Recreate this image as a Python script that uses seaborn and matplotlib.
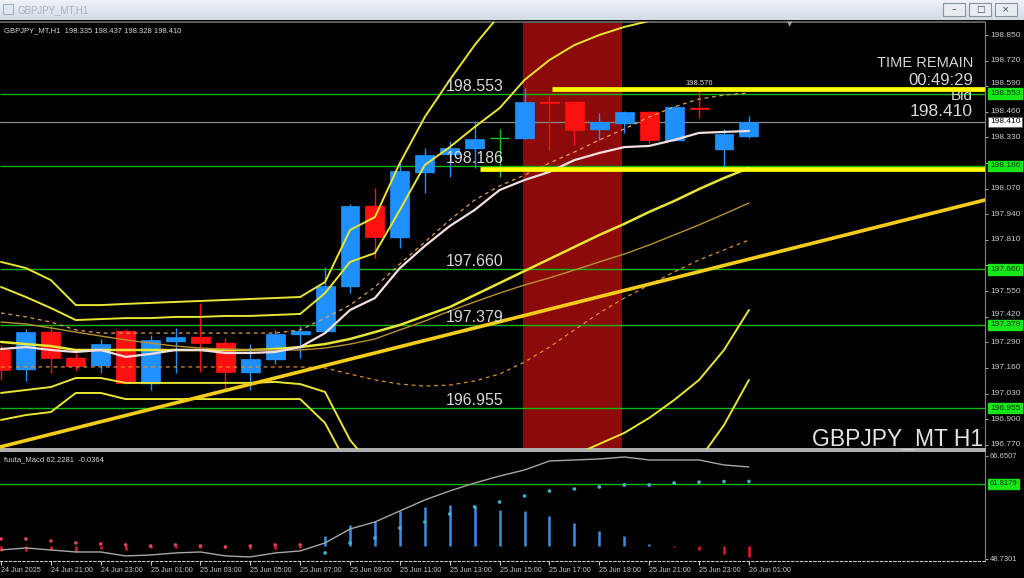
import numpy as np
import pandas as pd
import seaborn as sns
import matplotlib.pyplot as plt
import matplotlib.transforms as mtransforms
from matplotlib.colors import LinearSegmentedColormap
from matplotlib.patches import Rectangle

# ---- GBPJPY_MT H1 bars: bar 0 = 24 Jun 19:00 ... bar 30 = 26 Jun 01:00 ----
opens = [197.251, 197.155, 197.342, 197.210, 197.175, 197.347, 197.084, 197.297,
         197.317, 197.287, 197.139, 197.205, 197.332, 197.347, 197.576, 197.982,
         197.825, 198.155, 198.246, 198.276, 198.327, 198.327, 198.510, 198.510,
         198.373, 198.403, 198.459, 198.317, 198.479, 198.271, 198.335]
highs = [197.276, 197.358, 197.378, 197.236, 197.307, 197.358, 197.327, 197.363,
         197.490, 197.312, 197.281, 197.353, 197.373, 197.672, 197.992, 198.073,
         198.200, 198.276, 198.312, 198.413, 198.373, 198.581, 198.545, 198.515,
         198.454, 198.464, 198.464, 198.490, 198.576, 198.373, 198.437]
lows = [197.099, 197.094, 197.134, 197.149, 197.134, 197.079, 197.048, 197.134,
        197.139, 197.048, 197.048, 197.180, 197.210, 197.335, 197.540, 197.718,
        197.769, 198.048, 198.129, 198.175, 198.129, 198.322, 198.266, 198.292,
        198.317, 198.353, 198.302, 198.312, 198.429, 198.180, 198.328]
closes = [197.149, 197.342, 197.210, 197.170, 197.281, 197.084, 197.302, 197.317,
          197.287, 197.139, 197.205, 197.332, 197.347, 197.576, 197.982, 197.825,
          198.160, 198.241, 198.276, 198.322, 198.327, 198.510, 198.506, 198.368,
          198.408, 198.459, 198.317, 198.485, 198.476, 198.347, 198.410]

time_ticks = [0, 2, 4, 6, 8, 10, 12, 14, 16, 18, 20, 22, 24, 26, 28, 30]
time_labels = ['24 Jun 2025', '24 Jun 21:00', '24 Jun 23:00', '25 Jun 01:00',
               '25 Jun 03:00', '25 Jun 05:00', '25 Jun 07:00', '25 Jun 09:00',
               '25 Jun 11:00', '25 Jun 13:00', '25 Jun 15:00', '25 Jun 17:00',
               '25 Jun 19:00', '25 Jun 21:00', '25 Jun 23:00', '26 Jun 01:00']

# bands / averages on the price chart
bb_mid = [197.292, 197.281, 197.271, 197.251, 197.251, 197.251, 197.251, 197.251,
          197.251, 197.251, 197.251, 197.256, 197.266, 197.281, 197.307, 197.342,
          197.378, 197.424, 197.469, 197.530, 197.591, 197.652, 197.713, 197.774,
          197.835, 197.891, 197.952, 198.007, 198.068, 198.124, 198.175]
bb_up3 = [197.698, 197.667, 197.606, 197.479, 197.479, 197.485, 197.490, 197.495,
          197.500, 197.505, 197.510, 197.515, 197.520, 197.596, 197.860, 197.926,
          198.200, 198.434, 198.622, 198.799, 198.952, 199.104]
bb_up2 = [197.571, 197.520, 197.464, 197.403, 197.408, 197.413, 197.413, 197.419,
          197.419, 197.424, 197.424, 197.429, 197.434, 197.540, 197.698, 197.743,
          197.962, 198.190, 198.281, 198.383, 198.479, 198.622, 198.723, 198.799,
          198.850, 198.891, 198.921, 198.941, 198.952, 198.952, 198.941]
bb_dn2 = [197.033, 197.048, 197.063, 197.109, 197.109, 197.084, 197.084, 197.084,
          197.084, 197.084, 197.084, 197.089, 197.078, 197.038, 196.794, 196.642,
          196.591, 196.566, 196.540, 196.540, 196.540, 196.566, 196.617, 196.718,
          196.774, 196.830, 196.906, 196.997, 197.099, 197.251, 197.454]
bb_dn3 = [196.896, 196.921, 196.936, 197.033, 197.033, 197.002, 197.002, 197.002,
          197.002, 197.002, 197.002, 197.002, 197.002, 196.880, 196.642, 196.400,
          196.400, 196.400, 196.400, 196.400, 196.400, 196.400, 196.400, 196.400,
          196.400, 196.400, 196.400, 196.540, 196.693, 196.870, 197.099]
ma_white = [197.256, 197.266, 197.251, 197.241, 197.251, 197.216, 197.231, 197.251,
            197.251, 197.236, 197.236, 197.241, 197.266, 197.337, 197.454, 197.515,
            197.667, 197.779, 197.880, 197.962, 198.063, 198.114, 198.155, 198.215,
            198.251, 198.281, 198.287, 198.317, 198.353, 198.358, 198.363]
ma_orange = [197.393, 197.383, 197.363, 197.342, 197.322, 197.302, 197.286, 197.271,
             197.261, 197.256, 197.251, 197.251, 197.251, 197.261, 197.281, 197.307,
             197.353, 197.398, 197.449, 197.495, 197.540, 197.581, 197.617, 197.657,
             197.698, 197.738, 197.784, 197.835, 197.886, 197.941, 197.997]
dash_hi = [197.439, 197.419, 197.393, 197.353, 197.337, 197.337, 197.337, 197.337,
           197.337, 197.337, 197.337, 197.337, 197.353, 197.413, 197.479, 197.571,
           197.688, 197.799, 197.911, 198.012, 198.084, 198.139, 198.200, 198.256,
           198.317, 198.373, 198.434, 198.485, 198.525, 198.545, 198.556]
dash_lo = [197.165, 197.165, 197.165, 197.165, 197.165, 197.165, 197.165, 197.165,
           197.165, 197.165, 197.165, 197.165, 197.165, 197.160, 197.129, 197.099,
           197.078, 197.068, 197.073, 197.094, 197.129, 197.190, 197.266, 197.353,
           197.439, 197.515, 197.581, 197.647, 197.708, 197.759, 197.809]

levels = [198.553, 198.186, 197.660, 197.379, 196.955]
bid = 198.410
high_mark = 198.576
yellow_lines = [198.574, 198.168]       # thick horizontal lines
yellow_start = [22.1, 19.2]             # bar where each starts
trend_bars = [0, 30]
trend_prices = [196.760, 197.712]
zone_bars = [20.94, 24.91]              # shaded box
price_ticks = [198.850, 198.720, 198.590, 198.460, 198.330, 198.200, 198.070,
               197.940, 197.810, 197.680, 197.550, 197.420, 197.290, 197.160,
               197.030, 196.900, 196.770]

# fuuta_Macd sub window
macd_main = [50.30, 50.65, 50.30, 49.95, 49.95, 49.26, 49.43, 49.78, 49.95, 49.26,
             49.09, 49.78, 50.13, 51.52, 53.95, 55.17, 57.09, 59.00, 60.57, 61.95,
             63.17, 64.22, 65.78, 65.96, 66.13, 66.48, 65.96, 65.96, 65.96, 65.09, 64.74]
macd_dots = [52.22, 52.22, 51.87, 51.52, 51.35, 51.17, 51.00, 51.17, 51.00, 50.83,
             51.00, 51.17, 51.17, 49.78, 51.52, 52.39, 54.13, 55.17, 56.56, 57.78,
             58.65, 59.69, 60.56, 60.91, 61.26, 61.61, 61.61, 61.96, 62.10, 62.20, 62.23]
macd_hist = [-0.87, -0.87, -0.70, -1.04, -0.52, -0.70, -0.35, -0.35, -0.35, -0.35,
             -0.52, -0.52, -0.35, 1.74, 3.65, 4.35, 6.09, 6.78, 7.13, 6.96,
             6.26, 6.09, 5.22, 4.00, 2.61, 1.74, 0.35, -0.17, -0.70, -1.39, -1.91]
hist_zero = 51.0
macd_level = 61.8179
macd_max = 66.6507
macd_min = 48.7301

# ---------------- style ----------------
sns.set_style('dark', rc={'axes.facecolor': 'black', 'figure.facecolor': 'black',
                          'axes.grid': False})
plt.rcParams['font.family'] = ['Liberation Sans', 'DejaVu Sans']

BLUE = '#1e90ff'
RED = '#ff1010'
DOJI = '#22c022'
GREEN = '#12b812'
BAND = '#e8e633'
TXT = '#d6d6d6'
AXTXT = '#c8c8c8'

df = pd.DataFrame({'bar': np.arange(len(opens)), 'open': opens, 'high': highs,
                   'low': lows, 'close': closes, 'mid': bb_mid, 'up2': bb_up2,
                   'dn2': bb_dn2, 'dn3': bb_dn3, 'white': ma_white,
                   'orange': ma_orange, 'dhi': dash_hi, 'dlo': dash_lo,
                   'macd': macd_main, 'dots': macd_dots, 'hist': macd_hist})

W, H = 1024, 578
fig = plt.figure(figsize=(W / 100, H / 100), dpi=100)


def fxy(x, y):
    return x / W, 1 - y / H


ax = fig.add_axes([0, 129 / H, 985 / W, 427 / H])
ax2 = fig.add_axes([0, 17 / H, 985 / W, 110 / H])
xlim = (-0.04, 39.47)

# ---- price chart ----
ax.axvspan(zone_bars[0], zone_bars[1], color='#8c0a0a', lw=0, zorder=0)
ax.hlines(levels, *xlim, colors=GREEN, lw=1, zorder=1)
ax.axhline(bid, color='#8a8a8a', lw=0.9, zorder=1)

o = df['open'].to_numpy()
c = df['close'].to_numpy()
cols = np.where(c == o, DOJI, np.where(c > o, BLUE, RED))
ax.vlines(df['bar'], df['low'], df['high'], colors=cols, lw=1, zorder=3)
ax.bar(df['bar'], np.abs(c - o), bottom=np.minimum(o, c), width=0.76,
       color=cols, edgecolor=cols, lw=0.5, zorder=3)
ax.hlines(o, df['bar'] - 0.38, df['bar'] + 0.38, colors=cols, lw=1, zorder=3)

kw = dict(ax=ax, legend=False, zorder=4)
sns.lineplot(x=np.arange(len(bb_up3)), y=bb_up3, color=BAND, lw=1.4, **kw)
for col in ['up2', 'dn2', 'dn3']:
    sns.lineplot(data=df, x='bar', y=col, color=BAND, lw=1.4, **kw)
sns.lineplot(data=df, x='bar', y='mid', color=BAND, lw=1.8, **kw)
sns.lineplot(data=df, x='bar', y='orange', color='#b8902e', lw=1.0, **kw)
sns.lineplot(data=df, x='bar', y='dhi', color='#e0a050', lw=0.9, dashes=False,
             linestyle=(0, (3, 3)), **kw)
sns.lineplot(data=df, x='bar', y='dlo', color='#d89030', lw=0.9, dashes=False,
             linestyle=(0, (3, 3)), **kw)
sns.lineplot(data=df, x='bar', y='white', color='#f2dede', lw=1.6, **kw)

ax.axline((trend_bars[0], trend_prices[0]), (trend_bars[1], trend_prices[1]),
          color='#f4cc1a', lw=2.6, zorder=5)
for lv, st in zip(yellow_lines, yellow_start):
    ax.hlines(lv, st, xlim[1], colors='#ffff00', lw=3.4, zorder=5)

for lv in levels:
    ax.annotate(f'{lv:.3f}', xy=(19, lv), xytext=(0, 3), textcoords='offset pixels',
                ha='center', va='baseline', fontsize=11.5, color=TXT, zorder=6)
ax.annotate(f'{high_mark:.3f}', xy=(28, high_mark), xytext=(0, 4),
            textcoords='offset pixels', ha='center', va='baseline',
            fontsize=5.5, color=TXT, zorder=6)

ax.set_xlim(*xlim)
ax.set_ylim(196.7485, 198.916)
ax.set_xticks([])
ax.set_xlabel('')
ax.set_ylabel('')
ax.set_yticks(price_ticks)
ax.tick_params(axis='y', left=False, labelleft=False, right=True, labelright=False,
               length=2.5, width=0.8, color='#a0a0a0')
ax.spines['left'].set_visible(False)
ax.spines['right'].set_color('#808080')
ax.spines['top'].set_color('#5a5a5a')
ax.spines['top'].set_linewidth(1.5)
ax.spines['bottom'].set_color('#b4b4b4')
ax.spines['bottom'].set_linewidth(1.4)

# price scale: labels hidden under a level box are not drawn, near ones peek above
covered = [198.200, 197.680]
nudged = {198.590: 3, 197.420: 2}
for t in price_ticks:
    if t in covered:
        continue
    ax.annotate(f'{t:.3f}', xy=(1.0051, t), xycoords=('axes fraction', 'data'),
                xytext=(0, nudged.get(t, 0)), textcoords='offset pixels',
                ha='left', va='center', fontsize=6, color=AXTXT,
                annotation_clip=False, zorder=9)

tr = mtransforms.blended_transform_factory(ax.transAxes, ax.transData)
for lv in levels:
    ax.text(1.0051, lv, f'{lv:.3f}', transform=tr, ha='left', va='center',
            fontsize=6, color='#063806', clip_on=False, zorder=10,
            bbox=dict(boxstyle='square,pad=0.2', fc='#19e619', ec='#19e619'))
ax.text(1.0051, bid, f'{bid:.3f}', transform=tr, ha='left', va='center',
        fontsize=6, color='black', clip_on=False, zorder=10,
        bbox=dict(boxstyle='square,pad=0.2', fc='white', ec='#606060', lw=0.6))

# chart texts
ft = fig.transFigure
ax.text(*fxy(4, 32), 'GBPJPY_MT,H1  198.335 198.437 198.328 198.410', transform=ft,
        fontsize=5.5, color=TXT, zorder=6)
ax.text(*fxy(973, 67), 'TIME REMAIN', transform=ft, ha='right', fontsize=10.5,
        color=TXT, zorder=2)
ax.text(*fxy(973, 85), '00:49:29', transform=ft, ha='right', fontsize=12,
        color=TXT, zorder=2)
ax.text(*fxy(973, 100), 'Bid', transform=ft, ha='right', fontsize=11,
        color=TXT, zorder=2)
ax.text(*fxy(973, 116), '198.410', transform=ft, ha='right', fontsize=12.5,
        color=TXT, zorder=2)
ax.text(*fxy(983, 446), 'GBPJPY_MT H1', transform=ft, ha='right', fontsize=16.5,
        color='#e4e4e4', zorder=6)
ax.text(*fxy(790, 26), '\u25bc', transform=ft, ha='center', fontsize=5,
        color='#9a9a9a', family='DejaVu Sans', zorder=6)

# ---- fuuta_Macd window ----
ax2.axhline(macd_level, color=GREEN, lw=1, zorder=1)
hist = df['hist'].to_numpy()
ax2.vlines(df['bar'], hist_zero, hist_zero + hist,
           colors=np.where(hist > 0, '#3a8ee6', '#e8182c'), lw=1.8, zorder=2)
sns.lineplot(data=df, x='bar', y='macd', color='#a6a6a6', lw=1, ax=ax2,
             legend=False, zorder=3)
dots_above = df['dots'] > df['macd']
sns.scatterplot(x=df['bar'], y=df['dots'], hue=dots_above,
                palette={True: '#e0405a', False: '#3fb3c4'}, s=7,
                edgecolor='none', ax=ax2, legend=False, zorder=4)
ax2.text(*fxy(4, 461), 'fuuta_Macd 62.2281  -0.0364', transform=ft,
         fontsize=5.5, color=TXT)

ax2.set_xlim(*xlim)
ax2.set_ylim(48.38, 67.52)
ax2.set_xlabel('')
ax2.set_ylabel('')
ax2.set_yticks([macd_max, macd_min])
ax2.set_yticklabels([f'{macd_max:.4f}', f'{macd_min:.4f}'])
ax2.tick_params(axis='y', left=False, labelleft=False, right=True, labelright=True,
                length=2.5, width=0.8, color='#a0a0a0', labelcolor=AXTXT,
                labelsize=5.5, pad=1)
ax2.set_xticks(time_ticks)
ax2.set_xticklabels(time_labels)
ax2.tick_params(axis='x', bottom=True, length=3, width=0.8, color='#c8c8c8',
                labelcolor=AXTXT, labelsize=5.2, pad=1.5)
for t in ax2.get_xticklabels():
    t.set_horizontalalignment('left')
ax2.spines['left'].set_visible(False)
ax2.spines['right'].set_color('#808080')
ax2.spines['top'].set_color('#b4b4b4')
ax2.spines['top'].set_linewidth(1.4)
ax2.spines['bottom'].set_color('#c8c8c8')
ax2.spines['bottom'].set_linestyle((0, (2, 2)))
tr2 = mtransforms.blended_transform_factory(ax2.transAxes, ax2.transData)
ax2.text(1.0051, macd_level, f'{macd_level:.4f}', transform=tr2, ha='left',
         va='center', fontsize=5.5, color='#063806', clip_on=False, zorder=10,
         bbox=dict(boxstyle='square,pad=0.2', fc='#19e619', ec='#19e619'))

# ---- window title bar ----
axt = fig.add_axes([0, 1 - 20 / H, 1, 20 / H])
axt.set_xlim(0, W)
axt.set_ylim(20, 0)
axt.axis('off')
grad = LinearSegmentedColormap.from_list('bar', ['#eef2f7', '#d3dbe5'])
axt.imshow(np.linspace(0, 1, 20)[:, None], extent=[0, W, 20, 0], cmap=grad,
           aspect='auto')
axt.add_patch(Rectangle((3, 4), 10, 10, fc='#dfe8f2', ec='#9fb2c8', lw=0.8))
axt.text(17, 10.5, 'GBPJPY_MT,H1', fontsize=7, color='#a7b0ba', va='center')
for x0, sym in zip([943, 969, 995], ['\u2013', '\u25a1', '\u00d7']):
    axt.add_patch(Rectangle((x0, 3), 22, 13, fc='#e9edf2', ec='#8893a0', lw=0.8))
    axt.text(x0 + 11, 9.5, sym, fontsize=6.5, color='#404a55', ha='center',
             va='center', family='DejaVu Sans')

fig.savefig('out.png', dpi=100, facecolor='black')
